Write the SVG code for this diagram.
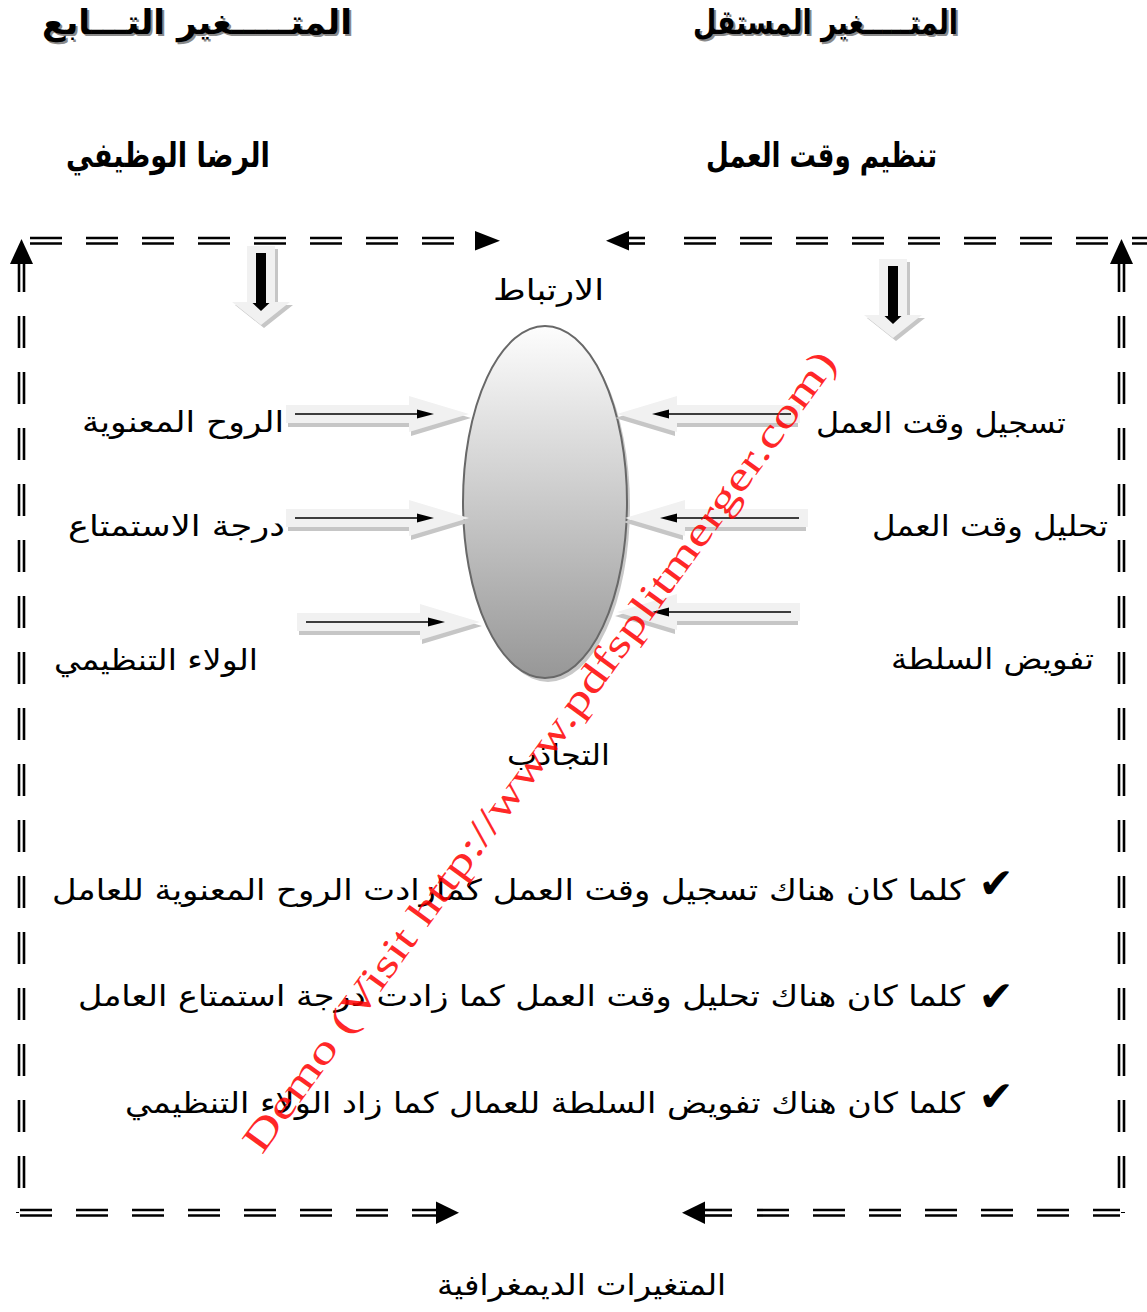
<svg xmlns="http://www.w3.org/2000/svg" xmlns:xlink="http://www.w3.org/1999/xlink" width="1147" height="1312" viewBox="0 0 1147 1312">
<defs>
<style>
.t{font-family:"DejaVu Sans",sans-serif;font-size:29px;fill:#000}
.b{font-weight:bold;font-size:34px}
.sh{fill:#8a8a8a}
.ck{font-family:"DejaVu Sans",sans-serif;font-size:42px;fill:#000}
.dl{stroke:#000;stroke-width:2.6;fill:none}
.ds{stroke-dasharray:32 24}
.ah{fill:#000}
.lt{fill:#f1f1f1}
.ls{fill:#c6c6c6}
.bl{stroke:#000;stroke-width:1.6;fill:none}
.wm{font-family:"Liberation Serif",serif;font-size:40px;fill:#ff0000;fill-opacity:0.85}
</style>
<linearGradient id="eg" x1="0" y1="0" x2="0" y2="1">
<stop offset="0" stop-color="#fdfdfd"/>
<stop offset="1" stop-color="#979797"/>
</linearGradient>
<path id="hr" d="M-183,-9H-60V-18L0,0L-60,18V9H-183Z"/>
<g id="harR">
<use xlink:href="#hr" class="ls" transform="translate(2,4)"/>
<use xlink:href="#hr" class="lt"/>
<line x1="-174" y1="0" x2="-50" y2="0" class="bl"/>
<path d="M-52,-4.5L-35,0L-52,4.5Z" class="ah"/>
</g>
<g id="vdown">
<path d="M-14,0H14V56H29L0,79L-29,56H-14Z" class="ls" transform="translate(3,3)"/>
<path d="M-14,0H14V56H29L0,79L-29,56H-14Z" class="lt"/>
<rect x="-5" y="7" width="10" height="51" class="ah"/>
<path d="M-8.5,57H8.5L0,65Z" class="ah"/>
</g>
</defs>
<rect width="1147" height="1312" fill="#fff"/>

<g id="connectors">
<line x1="30" y1="238" x2="454" y2="238" class="dl ds"/>
<line x1="30" y1="243.5" x2="454" y2="243.5" class="dl ds"/>
<path d="M475,231L500,240.75L475,250.5Z" class="ah"/>
<path d="M606,240.75L629,231L629,250.5Z" class="ah"/>
<line x1="627" y1="238" x2="645" y2="238" class="dl"/>
<line x1="627" y1="243.5" x2="645" y2="243.5" class="dl"/>
<line x1="684" y1="238" x2="1147" y2="238" class="dl ds"/>
<line x1="684" y1="243.5" x2="1147" y2="243.5" class="dl ds"/>
<path d="M10,264L21.5,239L33,264Z" class="ah"/>
<line x1="19" y1="262" x2="19" y2="292" class="dl"/>
<line x1="24" y1="262" x2="24" y2="292" class="dl"/>
<line x1="19" y1="316" x2="19" y2="1188" class="dl ds"/>
<line x1="24" y1="316" x2="24" y2="1188" class="dl ds"/>
<path d="M1110,264L1121.5,239L1133,264Z" class="ah"/>
<line x1="1119" y1="262" x2="1119" y2="292" class="dl"/>
<line x1="1124" y1="262" x2="1124" y2="292" class="dl"/>
<line x1="1119" y1="316" x2="1119" y2="1188" class="dl ds"/>
<line x1="1124" y1="316" x2="1124" y2="1188" class="dl ds"/>
<line x1="20" y1="1210" x2="444" y2="1210" class="dl ds"/>
<line x1="20" y1="1215.5" x2="444" y2="1215.5" class="dl ds"/>
<path d="M436,1201.5L459,1212.75L436,1224Z" class="ah"/>
<line x1="16" y1="1212.5" x2="19" y2="1212.5" stroke="#000" stroke-width="1"/>
<path d="M682,1212.75L705,1201.5L705,1224Z" class="ah"/>
<line x1="703" y1="1210" x2="732" y2="1210" class="dl"/>
<line x1="703" y1="1215.5" x2="732" y2="1215.5" class="dl"/>
<line x1="757" y1="1210" x2="1120" y2="1210" class="dl ds"/>
<line x1="757" y1="1215.5" x2="1120" y2="1215.5" class="dl ds"/>
<line x1="1121" y1="1212.5" x2="1125" y2="1212.5" stroke="#000" stroke-width="1"/>
</g>

<g id="ellipse-node">
<ellipse cx="548" cy="506" rx="82" ry="176" fill="#c8c8c8"/>
<ellipse cx="545" cy="502" rx="82" ry="176" fill="url(#eg)" stroke="#686868" stroke-width="2"/>
</g>

<g id="arrows">
<use xlink:href="#vdown" transform="translate(261,246)"/>
<use xlink:href="#vdown" transform="translate(893,259)"/>
<use xlink:href="#harR" transform="translate(469,414)"/>
<use xlink:href="#harR" transform="translate(469,518)"/>
<use xlink:href="#harR" transform="translate(480,622)"/>
<use xlink:href="#harR" transform="translate(617,414) scale(-1,1)"/>
<use xlink:href="#harR" transform="translate(625,518) scale(-1,1)"/>
<use xlink:href="#harR" transform="translate(617,612) scale(-1,1)"/>
</g>

<g id="header-dependent">
<text x="199" y="36" class="t b sh" text-anchor="middle" textLength="310" lengthAdjust="spacingAndGlyphs">المتـــــغير التـــابع</text>
<text x="197" y="34" class="t b" text-anchor="middle" textLength="310" lengthAdjust="spacingAndGlyphs">المتـــــغير التـــابع</text>
</g>
<g id="header-independent">
<text x="827.5" y="36" class="t b sh" text-anchor="middle" textLength="265" lengthAdjust="spacingAndGlyphs">المتـــــغير المستقل</text>
<text x="825.5" y="34" class="t b" text-anchor="middle" textLength="265" lengthAdjust="spacingAndGlyphs">المتـــــغير المستقل</text>
</g>
<g id="node-satisfaction">
<text x="168" y="167" class="t b" text-anchor="middle" textLength="204" lengthAdjust="spacingAndGlyphs">الرضا الوظيفي</text>
</g>
<g id="node-timeorg">
<text x="821.5" y="167" class="t b" text-anchor="middle" textLength="231" lengthAdjust="spacingAndGlyphs">تنظيم وقت العمل</text>
</g>
<g id="label-correlation">
<text x="548.5" y="300" class="t" text-anchor="middle" textLength="111" lengthAdjust="spacingAndGlyphs">الارتباط</text>
</g>
<g id="node-morale">
<text x="183" y="432" class="t" text-anchor="middle" textLength="202" lengthAdjust="spacingAndGlyphs">الروح المعنوية</text>
</g>
<g id="node-enjoyment">
<text x="176.5" y="536" class="t" text-anchor="middle" textLength="217" lengthAdjust="spacingAndGlyphs">درجة الاستمتاع</text>
</g>
<g id="node-loyalty">
<text x="156" y="670" class="t" text-anchor="middle" textLength="204" lengthAdjust="spacingAndGlyphs">الولاء التنظيمي</text>
</g>
<g id="node-recording">
<text x="941" y="433" class="t" text-anchor="middle" textLength="250" lengthAdjust="spacingAndGlyphs">تسجيل وقت العمل</text>
</g>
<g id="node-analysis">
<text x="990" y="536" class="t" text-anchor="middle" textLength="236" lengthAdjust="spacingAndGlyphs">تحليل وقت العمل</text>
</g>
<g id="node-delegation">
<text x="992.5" y="669" class="t" text-anchor="middle" textLength="203" lengthAdjust="spacingAndGlyphs">تفويض السلطة</text>
</g>
<g id="label-attraction">
<text x="558.5" y="765" class="t" text-anchor="middle" textLength="103" lengthAdjust="spacingAndGlyphs">التجاذب</text>
</g>
<g id="bullets">
<text x="996" y="898" class="ck" text-anchor="middle">✔</text>
<text x="508.5" y="900" class="t" text-anchor="middle" textLength="913" lengthAdjust="spacingAndGlyphs">كلما كان هناك تسجيل وقت العمل كمازادت الروح المعنوية للعامل</text>
<text x="996" y="1011" class="ck" text-anchor="middle">✔</text>
<text x="521.5" y="1006" class="t" text-anchor="middle" textLength="887" lengthAdjust="spacingAndGlyphs">كلما كان هناك تحليل وقت العمل كما زادت درجة استمتاع العامل</text>
<text x="996" y="1111" class="ck" text-anchor="middle">✔</text>
<text x="545" y="1113" class="t" text-anchor="middle" textLength="840" lengthAdjust="spacingAndGlyphs">كلما كان هناك تفويض السلطة للعمال كما زاد الولاء التنظيمي</text>
</g>
<g id="node-demographic">
<text x="581.5" y="1295" class="t" text-anchor="middle" textLength="289" lengthAdjust="spacingAndGlyphs">المتغيرات الديمغرافية</text>
</g>
<g id="watermark">
<text x="550" y="759" class="wm" text-anchor="middle" textLength="980" lengthAdjust="spacingAndGlyphs" transform="rotate(-54 550 759)">Demo (Visit http://www.pdfsplitmerger.com)</text>
</g>
</svg>
